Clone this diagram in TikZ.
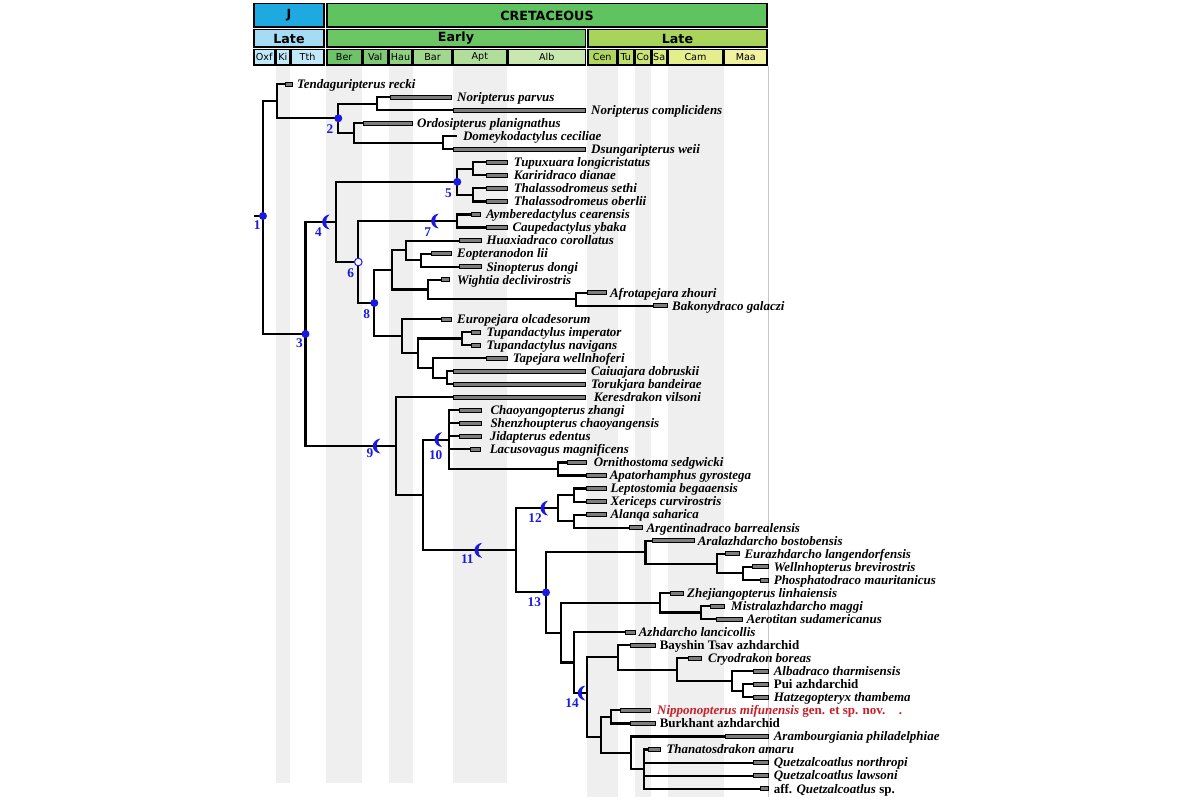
\documentclass[tikz,border=0pt]{standalone}
\usepackage{fontspec}
\setmainfont{Liberation Serif}
\newfontfamily\hdrfont{DejaVu Sans}

\definecolor{cladeblue}{RGB}{25,25,225}
\definecolor{novred}{RGB}{200,30,40}
\definecolor{stripegray}{RGB}{239,239,239}
\definecolor{bargray}{RGB}{125,125,125}
\definecolor{jurblue}{RGB}{30,170,225}
\definecolor{latejur}{RGB}{165,220,243}
\definecolor{jurstage}{RGB}{195,233,248}
\definecolor{cretgreen}{RGB}{95,195,95}
\definecolor{earlyk}{RGB}{108,198,100}
\definecolor{latek}{RGB}{168,212,92}
\definecolor{berc}{RGB}{110,195,105}
\definecolor{valc}{RGB}{128,202,118}
\definecolor{hauc}{RGB}{145,210,130}
\definecolor{barc}{RGB}{162,216,142}
\definecolor{aptc}{RGB}{178,222,156}
\definecolor{albc}{RGB}{200,232,175}
\definecolor{cenc}{RGB}{176,214,96}
\definecolor{tuc}{RGB}{190,222,108}
\definecolor{coc}{RGB}{204,228,118}
\definecolor{sac}{RGB}{216,234,128}
\definecolor{camc}{RGB}{228,238,140}
\definecolor{maac}{RGB}{240,242,160}

\tikzset{every picture/.style={line width=0.75pt}}
\tikzset{
  branch/.style={line width=1.6pt},
  rangebar/.style={fill=bargray, draw=black, line width=0.6pt},
  taxon/.style={anchor=base west, inner sep=0pt, font=\fontsize{9.75}{11}\selectfont\bfseries\itshape},
  taxonup/.style={anchor=base west, inner sep=0pt, font=\fontsize{9.75}{11}\selectfont\bfseries},
  cladenum/.style={text=cladeblue, inner sep=0pt, font=\fontsize{10}{11}\selectfont\bfseries},
  cladedot/.style={fill=cladeblue},
  cladering/.style={fill=white, draw=cladeblue, line width=0.75pt},
  stripe/.style={fill=stripegray, draw=none},
  cell/.style={draw=black, line width=1pt},
  hdrbig/.style={inner sep=0pt, font=\hdrfont\fontsize{9.5}{11}\selectfont\bfseries},
  hdrsmall/.style={inner sep=0pt, font=\hdrfont\fontsize{7.2}{8}\selectfont},
}
% stem-based clade mark
\newcommand{\stemmark}[1]{\fill[cladeblue, shift={(#1)}] (7,-7.5) .. controls (-3,-6) and (-3,6) .. (7,7.5) .. controls (2,4) and (2,-4) .. cycle;}

\begin{document}
\begin{tikzpicture}[x=0.75pt,y=0.75pt,yscale=-1,xscale=1]
\useasboundingbox (0,0) rectangle (1200,800);

% Stage stripes
\fill[stripe] (276,66) rectangle (290,783);
\fill[stripe] (326,66) rectangle (362,783);
\fill[stripe] (389,66) rectangle (413,783);
\fill[stripe] (453,66) rectangle (507,783);
\fill[stripe] (587,66) rectangle (618,797);
\fill[stripe] (635,66) rectangle (651,797);
\fill[stripe] (668,66) rectangle (724,797);
\draw[color={rgb,255:red,200;green,200;blue,200}] (768,66) -- (768,797);

% Header
\draw[cell, fill=jurblue] (254,3.5) rectangle (324,27);
\node[hdrbig] (hJ) at (289,15.5) {J};
\draw[cell, fill=cretgreen] (327,3.5) rectangle (767,27);
\node[hdrbig] (hK) at (547,15.5) {CRETACEOUS};
\draw[cell, fill=latejur] (254,29.5) rectangle (324,47);
\node[hdrbig] (hLJ) at (289,38.5) {Late};
\draw[cell, fill=earlyk] (327,29.5) rectangle (585.5,47);
\node[hdrbig] (hEK) at (456,38.5) {Early};
\draw[cell, fill=latek] (588,29.5) rectangle (767,47);
\node[hdrbig] (hLK) at (677.5,38.5) {Late};

\draw[cell, fill=jurstage] (254,49.5) rectangle (274.5,65);
\node[hdrsmall] (sOxf) at (264.2,57.3) {Oxf};
\draw[cell, fill=jurstage] (276,49.5) rectangle (289.5,65);
\node[hdrsmall] (sKi) at (282.8,57.3) {Ki};
\draw[cell, fill=jurstage] (291,49.5) rectangle (324,65);
\node[hdrsmall] (sTth) at (307.5,57.3) {Tth};
\draw[cell, fill=berc] (327,49.5) rectangle (361.5,65);
\node[hdrsmall] (sBer) at (344.2,57.3) {Ber};
\draw[cell, fill=valc] (363,49.5) rectangle (387.5,65);
\node[hdrsmall] (sVal) at (375.2,57.3) {Val};
\draw[cell, fill=hauc] (389,49.5) rectangle (412,65);
\node[hdrsmall] (sHau) at (400.5,57.3) {Hau};
\draw[cell, fill=barc] (413.5,49.5) rectangle (451.5,65);
\node[hdrsmall] (sBar) at (432.5,57.3) {Bar};
\draw[cell, fill=aptc] (453,49.5) rectangle (506.5,65);
\node[hdrsmall] (sApt) at (479.8,57.3) {Apt};
\draw[cell, fill=albc] (508,49.5) rectangle (585.5,65);
\node[hdrsmall] (sAlb) at (546.8,57.3) {Alb};
\draw[cell, fill=cenc] (588,49.5) rectangle (616.5,65);
\node[hdrsmall] (sCen) at (602.2,57.3) {Cen};
\draw[cell, fill=tuc] (618,49.5) rectangle (633.5,65);
\node[hdrsmall] (sTu) at (625.8,57.3) {Tu};
\draw[cell, fill=coc] (635,49.5) rectangle (650.5,65);
\node[hdrsmall] (sCo) at (642.8,57.3) {Co};
\draw[cell, fill=sac] (652,49.5) rectangle (666.5,65);
\node[hdrsmall] (sSa) at (659.2,57.3) {Sa};
\draw[cell, fill=camc] (668,49.5) rectangle (723,65);
\node[hdrsmall] (sCam) at (695.5,57.3) {Cam};
\draw[cell, fill=maac] (724.5,49.5) rectangle (767,65);
\node[hdrsmall] (sMaa) at (745.8,57.3) {Maa};

% Internal nodes
\coordinate (rootstem) at (253.5,216);
\coordinate (n1) at (263,216);
\coordinate (nA) at (276.7,101.13);
\coordinate (n2) at (338.3,118.26);
\coordinate (nNor) at (376.7,103.58);
\coordinate (nOrd) at (354,132.94);
\coordinate (nDom) at (442.7,142.73);
\coordinate (n3) at (305.5,334.01);
\coordinate (n4) at (336,221.95);
\coordinate (n5) at (457.3,181.88);
\coordinate (nTup) at (472.7,168.83);
\coordinate (nTha) at (473.3,194.93);
\coordinate (n6) at (358.3,262.02);
\coordinate (n7) at (457.3,221.03);
\coordinate (n8) at (374.3,303);
\coordinate (nC) at (391.7,269.97);
\coordinate (nX) at (406,250.39);
\coordinate (nEop) at (420.7,260.18);
\coordinate (nY) at (427.7,289.54);
\coordinate (nAfr) at (576,299.33);
\coordinate (nD) at (402.3,336.03);
\coordinate (nE) at (417.7,353.16);
\coordinate (nTpd) at (461.7,338.48);
\coordinate (nF) at (433.3,367.84);
\coordinate (nCai) at (447.3,377.63);
\coordinate (n9) at (395.7,446.07);
\coordinate (nG) at (423.3,494.94);
\coordinate (n10) at (449,439.61);
\coordinate (nOrn) at (558.3,468.98);
\coordinate (n11) at (515.7,550.27);
\coordinate (n12) at (558.3,508.13);
\coordinate (nLep) at (574,495.08);
\coordinate (nAla) at (574,521.18);
\coordinate (n13) at (546,592.41);
\coordinate (nJ) at (645.5,552.17);
\coordinate (nL) at (716.7,563.59);
\coordinate (nWel) at (742.7,573.38);
\coordinate (nK) at (560.7,632.65);
\coordinate (nM) at (660,602.74);
\coordinate (nMis) at (701,612.53);
\coordinate (nN) at (574,662.55);
\coordinate (n14) at (586.7,693);
\coordinate (nO) at (618.3,657.39);
\coordinate (nQ) at (676.7,669.62);
\coordinate (nR) at (732.3,681.04);
\coordinate (nS) at (743.3,690.83);
\coordinate (nP) at (600.7,737);
\coordinate (nT) at (610.7,716.93);
\coordinate (nU) at (630.7,752.81);
\coordinate (nV) at (644,769.13);

% Terminal ends
\coordinate (t1) at (285,84);
\coordinate (t2) at (390,97.05);
\coordinate (t3) at (453.3,110.1);
\coordinate (t4) at (363.3,123.15);
\coordinate (t5) at (456.7,136.2);
\coordinate (t6) at (453.3,149.25);
\coordinate (t7) at (486,162.3);
\coordinate (t8) at (486,175.35);
\coordinate (t9) at (486,188.4);
\coordinate (t10) at (486,201.45);
\coordinate (t11) at (471.7,214.5);
\coordinate (t12) at (486,227.55);
\coordinate (t13) at (459.3,240.6);
\coordinate (t14) at (431,253.65);
\coordinate (t15) at (459.3,266.7);
\coordinate (t16) at (441.7,279.75);
\coordinate (t17) at (587.3,292.8);
\coordinate (t18) at (653.3,305.85);
\coordinate (t19) at (441,318.9);
\coordinate (t20) at (471.7,331.95);
\coordinate (t21) at (471.7,345);
\coordinate (t22) at (486,358.05);
\coordinate (t23) at (453.3,371.1);
\coordinate (t24) at (453.3,384.15);
\coordinate (t25) at (453.3,397.2);
\coordinate (t26) at (459.3,410.25);
\coordinate (t27) at (459.3,423.3);
\coordinate (t28) at (459.3,436.35);
\coordinate (t29) at (470.7,449.4);
\coordinate (t30) at (567.3,462.45);
\coordinate (t31) at (586.7,475.5);
\coordinate (t32) at (586.7,488.55);
\coordinate (t33) at (586.7,501.6);
\coordinate (t34) at (586.7,514.65);
\coordinate (t35) at (629.3,527.7);
\coordinate (t36) at (652.7,540.75);
\coordinate (t37) at (725,553.8);
\coordinate (t38) at (752.7,566.85);
\coordinate (t39) at (760,579.9);
\coordinate (t40) at (670,592.95);
\coordinate (t41) at (710,606);
\coordinate (t42) at (716.7,619.05);
\coordinate (t43) at (625,632.1);
\coordinate (t44) at (630,645.15);
\coordinate (t45) at (688.3,658.2);
\coordinate (t46) at (753.3,671.25);
\coordinate (t47) at (753.3,684.3);
\coordinate (t48) at (753.3,697.35);
\coordinate (t49) at (620,710.4);
\coordinate (t50) at (630,723.45);
\coordinate (t51) at (725,736.5);
\coordinate (t52) at (648.3,749.55);
\coordinate (t53) at (753.3,762.6);
\coordinate (t54) at (753.3,775.65);
\coordinate (t55) at (760.7,788.7);

%Straight Lines
\draw[branch] (rootstem) -- (n1);
\draw[branch] (n1) |- (nA);  \draw[branch] (n1) |- (n3);
\draw[branch] (nA) |- (t1);  \draw[branch] (nA) |- (n2);
\draw[branch] (n2) |- (nNor);  \draw[branch] (n2) |- (nOrd);
\draw[branch] (nNor) |- (t2);  \draw[branch] (nNor) |- (t3);
\draw[branch] (nOrd) |- (t4);  \draw[branch] (nOrd) |- (nDom);
\draw[branch] (nDom) |- (t5);  \draw[branch] (nDom) |- (t6);
\draw[branch] (n3) |- (n4);  \draw[branch] (n3) |- (n9);
\draw[branch] (n4) |- (n5);  \draw[branch] (n4) |- (n6);
\draw[branch] (n5) |- (nTup);  \draw[branch] (n5) |- (nTha);
\draw[branch] (nTup) |- (t7);  \draw[branch] (nTup) |- (t8);
\draw[branch] (nTha) |- (t9);  \draw[branch] (nTha) |- (t10);
\draw[branch] (n6) |- (n7);  \draw[branch] (n6) |- (n8);
\draw[branch] (n7) |- (t11);  \draw[branch] (n7) |- (t12);
\draw[branch] (n8) |- (nC);  \draw[branch] (n8) |- (nD);
\draw[branch] (nC) |- (nX);  \draw[branch] (nC) |- (nY);
\draw[branch] (nX) |- (t13);  \draw[branch] (nX) |- (nEop);
\draw[branch] (nEop) |- (t14);  \draw[branch] (nEop) |- (t15);
\draw[branch] (nY) |- (t16);  \draw[branch] (nY) |- (nAfr);
\draw[branch] (nAfr) |- (t17);  \draw[branch] (nAfr) |- (t18);
\draw[branch] (nD) |- (t19);  \draw[branch] (nD) |- (nE);
\draw[branch] (nE) |- (nTpd);  \draw[branch] (nE) |- (nF);
\draw[branch] (nTpd) |- (t20);  \draw[branch] (nTpd) |- (t21);
\draw[branch] (nF) |- (t22);  \draw[branch] (nF) |- (nCai);
\draw[branch] (nCai) |- (t23);  \draw[branch] (nCai) |- (t24);
\draw[branch] (n9) |- (t25);  \draw[branch] (n9) |- (nG);
\draw[branch] (nG) |- (n10);  \draw[branch] (nG) |- (n11);
\draw[branch] (n10) |- (t26);  \draw[branch] (n10) |- (t27);  \draw[branch] (n10) |- (t28);
\draw[branch] (n10) |- (t29);  \draw[branch] (n10) |- (nOrn);
\draw[branch] (nOrn) |- (t30);  \draw[branch] (nOrn) |- (t31);
\draw[branch] (n11) |- (n12);  \draw[branch] (n11) |- (n13);
\draw[branch] (n12) |- (nLep);  \draw[branch] (n12) |- (nAla);
\draw[branch] (nLep) |- (t32);  \draw[branch] (nLep) |- (t33);
\draw[branch] (nAla) |- (t34);  \draw[branch] (nAla) |- (t35);
\draw[branch] (n13) |- (nJ);  \draw[branch] (n13) |- (nK);
\draw[branch] (nJ) |- (t36);  \draw[branch] (nJ) |- (nL);
\draw[branch] (nL) |- (t37);  \draw[branch] (nL) |- (nWel);
\draw[branch] (nWel) |- (t38);  \draw[branch] (nWel) |- (t39);
\draw[branch] (nK) |- (nM);  \draw[branch] (nK) |- (nN);
\draw[branch] (nM) |- (t40);  \draw[branch] (nM) |- (nMis);
\draw[branch] (nMis) |- (t41);  \draw[branch] (nMis) |- (t42);
\draw[branch] (nN) |- (t43);  \draw[branch] (nN) |- (n14);
\draw[branch] (n14) |- (nO);  \draw[branch] (n14) |- (nP);
\draw[branch] (nO) |- (t44);  \draw[branch] (nO) |- (nQ);
\draw[branch] (nQ) |- (t45);  \draw[branch] (nQ) |- (nR);
\draw[branch] (nR) |- (t46);  \draw[branch] (nR) |- (nS);
\draw[branch] (nS) |- (t47);  \draw[branch] (nS) |- (t48);
\draw[branch] (nP) |- (nT);  \draw[branch] (nP) |- (nU);
\draw[branch] (nT) |- (t49);  \draw[branch] (nT) |- (t50);
\draw[branch] (nU) |- (t51);  \draw[branch] (nU) |- (nV);
\draw[branch] (nV) |- (t52);  \draw[branch] (nV) |- (t53);
\draw[branch] (nV) |- (t54);  \draw[branch] (nV) |- (t55);

% Range bars
\draw[rangebar] (285,82) rectangle (292.3,86);
\draw[rangebar] (390,95.05) rectangle (451.7,99.05);
\draw[rangebar] (453.3,108.1) rectangle (585,112.1);
\draw[rangebar] (363.3,121.15) rectangle (412.7,125.15);
\draw[rangebar] (453.3,147.25) rectangle (585,151.25);
\draw[rangebar] (486,160.3) rectangle (507.3,164.3);
\draw[rangebar] (486,173.35) rectangle (507.3,177.35);
\draw[rangebar] (486,186.4) rectangle (507.3,190.4);
\draw[rangebar] (486,199.45) rectangle (507.3,203.45);
\draw[rangebar] (471.7,212.5) rectangle (480.7,216.5);
\draw[rangebar] (486,225.55) rectangle (507.3,229.55);
\draw[rangebar] (459.3,238.6) rectangle (481,242.6);
\draw[rangebar] (431,251.65) rectangle (451,255.65);
\draw[rangebar] (459.3,264.7) rectangle (481,268.7);
\draw[rangebar] (441.7,277.75) rectangle (449.3,281.75);
\draw[rangebar] (587.3,290.8) rectangle (606,294.8);
\draw[rangebar] (653.3,303.85) rectangle (667.3,307.85);
\draw[rangebar] (441,316.9) rectangle (451.7,320.9);
\draw[rangebar] (471.7,329.95) rectangle (480.7,333.95);
\draw[rangebar] (471.7,343) rectangle (480.7,347);
\draw[rangebar] (486,356.05) rectangle (507.3,360.05);
\draw[rangebar] (453.3,369.1) rectangle (585,373.1);
\draw[rangebar] (453.3,382.15) rectangle (585,386.15);
\draw[rangebar] (453.3,395.2) rectangle (585,399.2);
\draw[rangebar] (459.3,408.25) rectangle (481,412.25);
\draw[rangebar] (459.3,421.3) rectangle (481,425.3);
\draw[rangebar] (459.3,434.35) rectangle (481,438.35);
\draw[rangebar] (470.7,447.4) rectangle (480.7,451.4);
\draw[rangebar] (567.3,460.45) rectangle (586.7,464.45);
\draw[rangebar] (586.7,473.5) rectangle (606,477.5);
\draw[rangebar] (586.7,486.55) rectangle (606,490.55);
\draw[rangebar] (586.7,499.6) rectangle (606,503.6);
\draw[rangebar] (586.7,512.65) rectangle (606,516.65);
\draw[rangebar] (629.3,525.7) rectangle (642.7,529.7);
\draw[rangebar] (652.7,538.75) rectangle (694,542.75);
\draw[rangebar] (725,551.8) rectangle (739.3,555.8);
\draw[rangebar] (752.7,564.85) rectangle (768.3,568.85);
\draw[rangebar] (760,577.9) rectangle (768.3,581.9);
\draw[rangebar] (670,590.95) rectangle (683.3,594.95);
\draw[rangebar] (710,604) rectangle (724,608);
\draw[rangebar] (716.7,617.05) rectangle (742.7,621.05);
\draw[rangebar] (625,630.1) rectangle (635,634.1);
\draw[rangebar] (630,643.15) rectangle (655,647.15);
\draw[rangebar] (688.3,656.2) rectangle (701.7,660.2);
\draw[rangebar] (753.3,669.25) rectangle (768.3,673.25);
\draw[rangebar] (753.3,682.3) rectangle (768.3,686.3);
\draw[rangebar] (753.3,695.35) rectangle (768.3,699.35);
\draw[rangebar] (620,708.4) rectangle (650.7,712.4);
\draw[rangebar] (630,721.45) rectangle (655,725.45);
\draw[rangebar] (725,734.5) rectangle (768.3,738.5);
\draw[rangebar] (648.3,747.55) rectangle (660,751.55);
\draw[rangebar] (753.3,760.6) rectangle (768.3,764.6);
\draw[rangebar] (753.3,773.65) rectangle (768.3,777.65);
\draw[rangebar] (760.7,786.7) rectangle (768.3,790.7);

% Clade marks
\fill[cladedot] (n1) circle (4);
\fill[cladedot] (n2) circle (4);
\fill[cladedot] (n3) circle (4);
\fill[cladedot] (n5) circle (4);
\fill[cladedot] (n8) circle (4);
\fill[cladedot] (n13) circle (4);
\draw[cladering] (n6) circle (3.8);
\coordinate (m4) at (322.7,221.95);
\coordinate (m7) at (431.7,221.03);
\coordinate (m9) at (373.3,446.07);
\coordinate (m10) at (435,439.61);
\coordinate (m11) at (475,550.27);
\coordinate (m12) at (541,508.13);
\coordinate (m14) at (578.3,693);
\stemmark{m4} \stemmark{m7} \stemmark{m9} \stemmark{m10}
\stemmark{m11} \stemmark{m12} \stemmark{m14}

% Text Node
\node[cladenum] (c1) at (257.3,225.5) {1};
\node[cladenum] (c2) at (330,129.5) {2};
\node[cladenum] (c3) at (299.5,343.5) {3};
\node[cladenum] (c4) at (318.5,232) {4};
\node[cladenum] (c5) at (448.5,193) {5};
\node[cladenum] (c6) at (350.7,273.5) {6};
\node[cladenum] (c7) at (427.7,231.7) {7};
\node[cladenum] (c8) at (366.7,314) {8};
\node[cladenum] (c9) at (370,453.5) {9};
\node[cladenum] (c10) at (435.7,455) {10};
\node[cladenum] (c11) at (467.3,559.5) {11};
\node[cladenum] (c12) at (535,518) {12};
\node[cladenum] (c13) at (534.3,602) {13};
\node[cladenum] (c14) at (572,702.7) {14};

% Text Node
\node[taxon] (l1) at (296.7,88.3) {Tendaguripterus recki};
\node[taxon] (l2) at (456.7,101.35) {Noripterus parvus};
\node[taxon] (l3) at (590.7,114.4) {Noripterus complicidens};
\node[taxon] (l4) at (416.7,127.45) {Ordosipterus planignathus};
\node[taxon] (l5) at (462.5,140.5) {Domeykodactylus ceciliae};
\node[taxon] (l6) at (590.7,153.55) {Dsungaripterus weii};
\node[taxon] (l7) at (513.3,166.6) {Tupuxuara longicristatus};
\node[taxon] (l8) at (513.3,179.65) {Kariridraco dianae};
\node[taxon] (l9) at (513.3,192.7) {Thalassodromeus sethi};
\node[taxon] (l10) at (513.3,205.75) {Thalassodromeus oberlii};
\node[taxon] (l11) at (485.5,218.8) {Aymberedactylus cearensis};
\node[taxon] (l12) at (512,231.85) {Caupedactylus ybaka};
\node[taxon] (l13) at (486,244.9) {Huaxiadraco corollatus};
\node[taxon] (l14) at (456.7,257.95) {Eopteranodon lii};
\node[taxon] (l15) at (486,271) {Sinopterus dongi};
\node[taxon] (l16) at (456.7,284.05) {Wightia declivirostris};
\node[taxon] (l17) at (609.5,297.1) {Afrotapejara zhouri};
\node[taxon] (l18) at (671.7,310.15) {Bakonydraco galaczi};
\node[taxon] (l19) at (456.7,323.2) {Europejara olcadesorum};
\node[taxon] (l20) at (486,336.25) {Tupandactylus imperator};
\node[taxon] (l21) at (486,349.3) {Tupandactylus navigans};
\node[taxon] (l22) at (512.3,362.35) {Tapejara wellnhoferi};
\node[taxon] (l23) at (590.7,375.4) {Caiuajara dobruskii};
\node[taxon] (l24) at (590.7,388.45) {Torukjara bandeirae};
\node[taxon] (l25) at (593.3,401.5) {Keresdrakon vilsoni};
\node[taxon] (l26) at (490,414.55) {Chaoyangopterus zhangi};
\node[taxon] (l27) at (490,427.6) {Shenzhoupterus chaoyangensis};
\node[taxon] (l28) at (489.3,440.65) {Jidapterus edentus};
\node[taxon] (l29) at (489.3,453.7) {Lacusovagus magnificens};
\node[taxon] (l30) at (593.3,466.75) {Ornithostoma sedgwicki};
\node[taxon] (l31) at (609.3,479.8) {Apatorhamphus gyrostega};
\node[taxon] (l32) at (610,492.85) {Leptostomia begaaensis};
\node[taxon] (l33) at (610,505.9) {Xericeps curvirostris};
\node[taxon] (l34) at (610,518.95) {Alanqa saharica};
\node[taxon] (l35) at (646,532) {Argentinadraco barrealensis};
\node[taxon] (l36) at (697.3,545.05) {Aralazhdarcho bostobensis};
\node[taxon] (l37) at (744,558.1) {Eurazhdarcho langendorfensis};
\node[taxon] (l38) at (773.3,571.15) {Wellnhopterus brevirostris};
\node[taxon] (l39) at (773.3,584.2) {Phosphatodraco mauritanicus};
\node[taxon] (l40) at (686.7,597.25) {Zhejiangopterus linhaiensis};
\node[taxon] (l41) at (730.7,610.3) {Mistralazhdarcho maggi};
\node[taxon] (l42) at (746,623.35) {Aerotitan sudamericanus};
\node[taxon] (l43) at (638.3,636.4) {Azhdarcho lancicollis};
\node[taxonup] (l44) at (659.3,649.45) {Bayshin Tsav azhdarchid};
\node[taxon] (l45) at (707.7,662.5) {Cryodrakon boreas};
\node[taxon] (l46) at (773.3,675.55) {Albadraco tharmisensis};
\node[taxonup] (l47) at (773.3,688.6) {Pui azhdarchid};
\node[taxon] (l48) at (773.3,701.65) {Hatzegopteryx thambema};
\node[taxon, text=novred] (l49) at (656.7,714.7) {Nipponopterus mifunensis \upshape gen. et sp. nov.\hspace{10pt}.};
\node[taxonup] (l50) at (659.3,727.75) {Burkhant azhdarchid};
\node[taxon] (l51) at (773.3,740.8) {Arambourgiania philadelphiae};
\node[taxon] (l52) at (666,753.85) {Thanatosdrakon amaru};
\node[taxon] (l53) at (773.3,766.9) {Quetzalcoatlus northropi};
\node[taxon] (l54) at (773.3,779.95) {Quetzalcoatlus lawsoni};
\node[taxonup] (l55) at (773.3,793) {aff. \textit{Quetzalcoatlus} sp.};

\end{tikzpicture}
\end{document}
